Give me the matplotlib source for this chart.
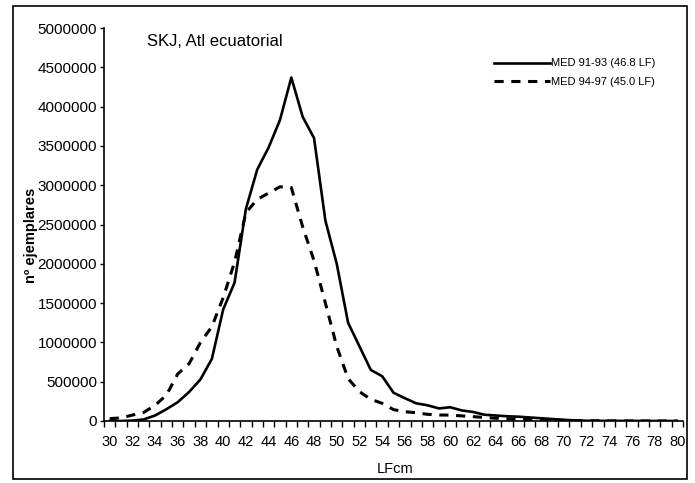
import matplotlib
matplotlib.use("Agg")
import matplotlib.pyplot as plt
from matplotlib.patches import Rectangle
import numpy as np

lengths = list(range(30, 81))
med_91_93 = [0, 0, 5000, 20000, 70000, 150000, 240000, 370000, 530000, 790000,
             1420000, 1760000, 2700000, 3200000, 3480000, 3830000, 4370000, 3870000,
             3600000, 2550000, 2000000, 1250000, 950000, 650000, 570000, 360000,
             290000, 225000, 200000, 160000, 175000, 135000, 115000, 80000, 70000,
             60000, 55000, 45000, 35000, 25000, 15000, 8000, 3000, 2000, 2000,
             1000, 1000, 1000, 0, 0, 0]
med_94_97 = [30000, 40000, 75000, 110000, 200000, 330000, 600000, 730000, 1000000,
             1200000, 1570000, 2020000, 2650000, 2820000, 2900000, 2980000, 2970000,
             2470000, 2040000, 1500000, 950000, 540000, 373000, 276000, 225000,
             145000, 118000, 105000, 85000, 76000, 75000, 65000, 55000, 45000,
             35000, 28000, 22000, 18000, 14000, 10000, 8000, 5000, 3000, 2000,
             1000, 1000, 0, 0, 0, 0, 0]
label_solid = "MED 91-93 (46.8 LF)"
label_dash = "MED 94-97 (45.0 LF)"
title = "SKJ, Atl ecuatorial"
xlabel = "LFcm"
ylabel = "nº ejemplares"
yticks = list(range(0, 5000001, 500000))

plt.rcParams['font.family'] = ['Liberation Sans', 'DejaVu Sans']

fig = plt.figure(figsize=(6.95, 4.83), dpi=100)
ax = fig.add_axes([104/695, 1-421/483, (683-104)/695, (421-28)/483])

ax.plot(lengths, med_91_93, color='black', lw=1.9, label=label_solid)
ax.plot(lengths, med_94_97, color='black', lw=2.2, dashes=(3, 2.5), label=label_dash)

ax.set_xlim(29.5, 80.5)
ax.set_ylim(0, 5000000)
ax.set_yticks(yticks)
ax.set_yticklabels([str(v) for v in yticks], fontsize=11)
ax.set_xticks(lengths[::2])
ax.set_xticklabels([str(v) for v in lengths[::2]], fontsize=10.5)
ax.set_xticks(np.arange(29.5, 81, 1), minor=True)
ax.tick_params(axis='x', which='major', length=0, pad=10)
ax.tick_params(axis='x', which='minor', length=4, width=1, direction='out')
ax.tick_params(axis='y', length=3, width=1, direction='out', pad=2)

for s in ['top', 'right']:
    ax.spines[s].set_visible(False)
for s in ['left', 'bottom']:
    ax.spines[s].set_linewidth(1.2)

fig.text(147/695, 1-41/483, title, fontsize=12, va='center', ha='left')
fig.text(395/695, 1-469/483, xlabel, fontsize=10.5, ha='center', va='center')
fig.text(31/695, 1-235/483, ylabel, fontsize=10.5, rotation=90, ha='center', va='center', fontweight='bold')

leg = ax.legend(loc='upper left', bbox_to_anchor=((490-104)/579, 1-(54-28)/393),
                frameon=False, fontsize=8, handlelength=5.0, handletextpad=0.1,
                labelspacing=0.75, borderaxespad=0)

fig.add_artist(Rectangle((13/695, 1-479/483), (687-13)/695, (479-6)/483,
                         transform=fig.transFigure, fill=False, lw=1.2, ec='black'))

fig.savefig("out.png", dpi=100)
